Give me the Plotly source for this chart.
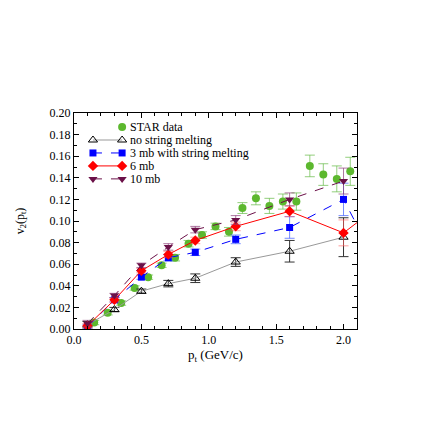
import plotly.graph_objects as go

# STAR data
star_pt = [0.15, 0.25, 0.35, 0.45, 0.55, 0.65, 0.75, 0.85, 0.95, 1.05,
           1.15, 1.25, 1.35, 1.45, 1.55, 1.65, 1.75, 1.85, 1.95, 2.05]
star_v2 = [0.006, 0.015, 0.024, 0.038, 0.048, 0.059, 0.066, 0.079, 0.087, 0.095,
           0.090, 0.112, 0.121, 0.114, 0.118, 0.118, 0.151, 0.143, 0.139, 0.146]
star_err = [0.002, 0.002, 0.002, 0.002, 0.002, 0.002, 0.003, 0.003, 0.003, 0.003,
            0.004, 0.005, 0.006, 0.007, 0.007, 0.008, 0.010, 0.010, 0.012, 0.013]

# model curves
pt = [0.1, 0.3, 0.5, 0.7, 0.9, 1.2, 1.6, 2.0]
pt_ext = pt + [2.2]

nomelt_v2 = [0.004, 0.018, 0.035, 0.042, 0.047, 0.062, 0.072, 0.085]
nomelt_err = [0.003, 0.002, 0.002, 0.003, 0.004, 0.004, 0.010, 0.018]

mb3_v2 = [0.002, 0.027, 0.048, 0.066, 0.071, 0.083, 0.094, 0.120, 0.072]
mb3_err = [0.002, 0.002, 0.002, 0.003, 0.003, 0.004, 0.010, 0.015, 0.0]

mb6_v2 = [0.003, 0.027, 0.054, 0.069, 0.082, 0.095, 0.109, 0.089, 0.108]
mb6_err = [0.002, 0.002, 0.002, 0.003, 0.003, 0.004, 0.005, 0.012, 0.0]

mb10_v2 = [0.005, 0.031, 0.059, 0.076, 0.092, 0.101, 0.120, 0.137]
mb10_err = [0.003, 0.002, 0.002, 0.003, 0.003, 0.004, 0.006, 0.012]

legend_names = ["STAR data", "no string melting", "3 mb with string melting", "6 mb", "10 mb"]

serif = "Times New Roman, Liberation Serif, DejaVu Serif, serif"

GREEN = "#5cb82e"
BLUE = "#0000ff"
RED = "#ff0000"
PURPLE = "#6b1048"

styles = [
    dict(marker=dict(symbol="circle", size=8, color=GREEN), line=None),
    dict(marker=dict(symbol="triangle-up-open", size=8, color="black", line=dict(width=1, color="black")),
         line=dict(color="#999999", width=1)),
    dict(marker=dict(symbol="square", size=7, color=BLUE), line=dict(color=BLUE, width=1, dash="dash")),
    dict(marker=dict(symbol="diamond", size=8, color=RED), line=dict(color=RED, width=1)),
    dict(marker=dict(symbol="triangle-down", size=8, color=PURPLE), line=dict(color=PURPLE, width=1, dash="dash")),
]

fig = go.Figure()

fig.add_trace(go.Scatter(
    x=star_pt, y=star_v2, mode="markers", marker=styles[0]["marker"],
    error_y=dict(type="data", array=star_err, color="rgba(110,190,80,0.75)",
                 thickness=1, width=5)))

fig.add_trace(go.Scatter(
    x=pt, y=nomelt_v2, mode="lines+markers", line=styles[1]["line"], marker=styles[1]["marker"],
    error_y=dict(type="data", array=nomelt_err, color="#333333", thickness=1, width=5)))

fig.add_trace(go.Scatter(
    x=pt_ext, y=mb3_v2, mode="lines+markers", line=styles[2]["line"], marker=styles[2]["marker"],
    error_y=dict(type="data", array=mb3_err, color="rgba(60,90,255,0.7)", thickness=1, width=5)))

fig.add_trace(go.Scatter(
    x=pt_ext, y=mb6_v2, mode="lines+markers", line=styles[3]["line"], marker=styles[3]["marker"],
    error_y=dict(type="data", array=mb6_err, color="rgba(255,90,90,0.6)", thickness=1, width=5)))

fig.add_trace(go.Scatter(
    x=pt, y=mb10_v2, mode="lines+markers", line=styles[4]["line"], marker=styles[4]["marker"],
    error_y=dict(type="data", array=mb10_err, color="rgba(140,60,120,0.7)", thickness=1, width=5)))

# hand-made legend on an overlay axis (symbol at both ends, tight rows)
row0, row_step = 0.935, 0.06
lx0, lx1, ltext = 0.067, 0.17, 0.19
for i, (name, st) in enumerate(zip(legend_names, styles)):
    yy = row0 - i * row_step
    if st["line"] is None:
        fig.add_trace(go.Scatter(x=[lx1], y=[yy], mode="markers", marker=st["marker"],
                                 xaxis="x2", yaxis="y2", hoverinfo="skip"))
    else:
        fig.add_trace(go.Scatter(x=[lx0, lx1], y=[yy, yy], mode="lines+markers",
                                 line=st["line"], marker=st["marker"],
                                 xaxis="x2", yaxis="y2", hoverinfo="skip"))
    fig.add_annotation(x=ltext, y=yy, xref="paper", yref="paper", text=name,
                       showarrow=False, xanchor="left", yanchor="middle",
                       font=dict(family=serif, size=12, color="black"))

axis_common = dict(
    showline=True, linecolor="black", linewidth=1, mirror="ticks",
    ticks="inside", ticklen=5, tickcolor="black", showgrid=False,
    zeroline=False, tickfont=dict(family=serif, size=12, color="black"),
)

fig.update_xaxes(range=[0, 2.1], dtick=0.5, tickformat=".1f",
                 minor=dict(dtick=0.1, ticks="inside", ticklen=3, tickcolor="black"),
                 title=dict(text="p<sub>t</sub> (GeV/c)", standoff=0,
                            font=dict(family=serif, size=13, color="black")),
                 **axis_common)
fig.update_yaxes(range=[0, 0.2], dtick=0.02, tickformat=".2f",
                 minor=dict(dtick=0.01, ticks="inside", ticklen=3, tickcolor="black"),
                 title=dict(text="v<sub>2</sub>(p<sub>t</sub>)", standoff=22,
                            font=dict(family=serif, size=12, color="black")),
                 **axis_common)

fig.update_layout(
    width=443, height=443,
    margin=dict(l=66, r=94, t=105, b=122),
    paper_bgcolor="white", plot_bgcolor="white",
    font=dict(family=serif, size=12, color="black"),
    showlegend=False,
    xaxis2=dict(overlaying="x", range=[0, 1], visible=False, fixedrange=True),
    yaxis2=dict(overlaying="y", range=[0, 1], visible=False, fixedrange=True),
)

fig.write_html("out.html")
